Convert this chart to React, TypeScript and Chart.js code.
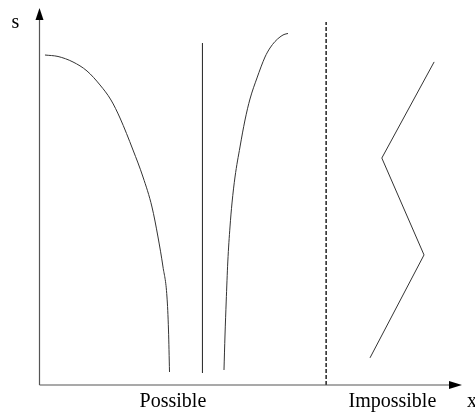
import React, { useEffect, useRef } from "react";
import { Chart, registerables } from "chart.js";

Chart.register(...registerables);

// Data (abstract units: x 0..100, s 0..100)
const curve1X = [1.18, 4.27, 7.82, 11.14, 14.22, 16.82, 18.96, 22.04, 24.41, 26.54, 27.96, 29.15, 30.09, 30.45, 30.69];
const curve1Y = [87.53, 87.14, 85.68, 83.29, 79.58, 75.6, 70.82, 62.33, 55.17, 47.21, 39.26, 31.3, 23.34, 14.59, 3.45];
const vlineX = [38.5, 38.5];
const vlineY = [90.7, 3.2];
const curve3X = [43.6, 43.84, 44.12, 44.5, 45.02, 45.5, 46.21, 47.39, 48.58, 49.76, 51.42, 53.32, 54.5, 55.69, 56.87, 57.82, 58.77];
const curve3Y = [3.98, 13.26, 22.02, 32.63, 41.91, 48.28, 55.17, 63.13, 70.29, 75.86, 81.44, 87.0, 89.39, 91.11, 92.31, 92.97, 93.24];
const boundaryX = [67.8, 67.8];
const boundaryY = [0, 96.3];
const zigX = [78.2, 91.0, 81.0, 93.4];
const zigY = [7.2, 34.5, 60.2, 85.7];
const regionLabels = ["Possible", "Impossible"];
const regionCenters = [31.5, 83.5];
const xAxisLabel = "x";
const yAxisLabel = "s";

const pts = (xs: number[], ys: number[]) => xs.map((x, i) => ({ x, y: ys[i] }));

const axesPlugin = {
  id: "axesPlugin",
  afterDraw(chart: any) {
    const ctx = chart.ctx;
    const xs = chart.scales.x;
    const ys = chart.scales.y;
    const x0 = xs.getPixelForValue(0) - 0.5;
    const y0 = ys.getPixelForValue(0);
    const xEnd = xs.getPixelForValue(100);
    const yEnd = ys.getPixelForValue(100);
    ctx.save();
    ctx.strokeStyle = "#555";
    ctx.fillStyle = "#000";
    ctx.lineWidth = 1.2;
    // y axis
    ctx.beginPath();
    ctx.moveTo(x0, y0);
    ctx.lineTo(x0, yEnd + 10);
    ctx.stroke();
    ctx.beginPath();
    ctx.moveTo(x0, yEnd);
    ctx.lineTo(x0 - 4, yEnd + 12);
    ctx.lineTo(x0 + 4, yEnd + 12);
    ctx.closePath();
    ctx.fill();
    // x axis
    ctx.beginPath();
    ctx.moveTo(x0, y0);
    ctx.lineTo(xEnd - 10, y0);
    ctx.stroke();
    ctx.beginPath();
    ctx.moveTo(xEnd, y0);
    ctx.lineTo(xEnd - 13, y0 - 4);
    ctx.lineTo(xEnd - 13, y0 + 4);
    ctx.closePath();
    ctx.fill();
    // labels
    ctx.font = '20px "Liberation Serif", "DejaVu Serif", serif';
    ctx.fillStyle = "#000";
    ctx.textAlign = "center";
    ctx.textBaseline = "alphabetic";
    regionLabels.forEach((t, i) => {
      ctx.fillText(t, xs.getPixelForValue(regionCenters[i]), y0 + 22);
    });
    ctx.textAlign = "left";
    ctx.fillText(xAxisLabel, xEnd + 5, y0 + 22);
    ctx.textAlign = "center";
    ctx.fillText(yAxisLabel, x0 - 24, yEnd + 20);
    ctx.restore();
  },
};

export default function App() {
  const ref = useRef<HTMLCanvasElement | null>(null);
  useEffect(() => {
    if (!ref.current) return;
    const lineStyle = {
      showLine: true,
      pointRadius: 0,
      borderColor: "#333",
      borderWidth: 1,
      fill: false,
    };
    const chart = new Chart(ref.current, {
      type: "scatter",
      data: {
        datasets: [
          { ...lineStyle, data: pts(curve1X, curve1Y), cubicInterpolationMode: "monotone" },
          { ...lineStyle, data: pts(vlineX, vlineY) },
          { ...lineStyle, data: pts(curve3X, curve3Y), cubicInterpolationMode: "monotone" },
          { ...lineStyle, data: pts(boundaryX, boundaryY), borderColor: "#000", borderWidth: 1.3, borderDash: [4, 2] },
          { ...lineStyle, data: pts(zigX, zigY), tension: 0 },
        ] as any,
      },
      options: {
        animation: false,
        responsive: false,
        layout: { padding: { left: 40, right: 13, top: 8, bottom: 27 } },
        plugins: { legend: { display: false }, tooltip: { enabled: false } },
        scales: {
          x: { type: "linear", min: 0, max: 100, display: false },
          y: { type: "linear", min: 0, max: 100, display: false },
        },
      },
      plugins: [axesPlugin],
    });
    return () => chart.destroy();
  }, []);
  return (
    <div style={{ position: "absolute", left: 0, top: 0, width: 475, height: 412, background: "#fff" }}>
      <canvas ref={ref} width={475} height={412} />
    </div>
  );
}
